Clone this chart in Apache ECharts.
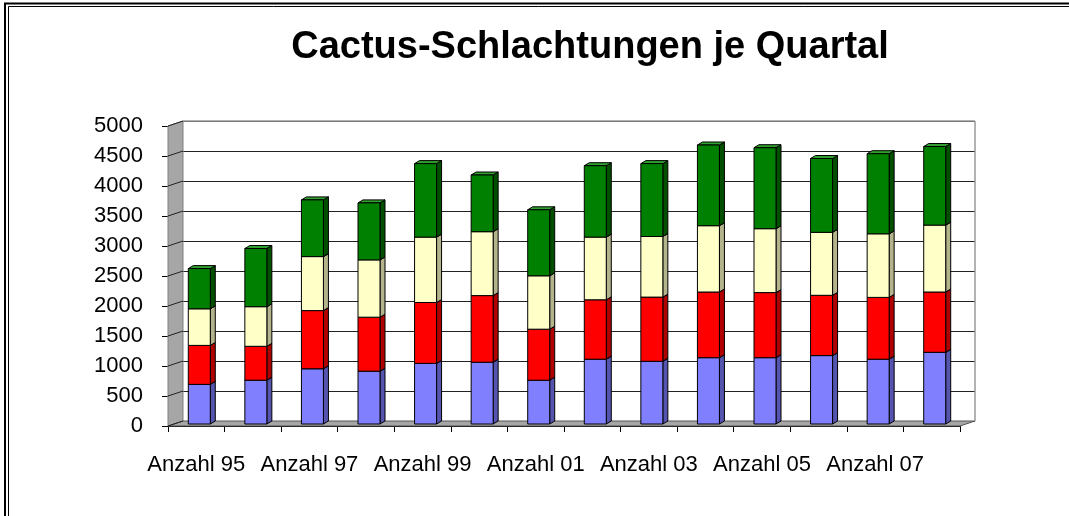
<!DOCTYPE html>
<html>
<head>
<meta charset="utf-8">
<script src="https://cdn.jsdelivr.net/npm/echarts@6/dist/echarts.min.js"></script>
<style>
html,body{margin:0;padding:0;background:#fff;}
#c{width:1069px;height:516px;}
</style>
</head>
<body>
<div id="c"></div>
<script>
const categories = ['Anzahl 95','Anzahl 96','Anzahl 97','Anzahl 98','Anzahl 99','Anzahl 00','Anzahl 01','Anzahl 02','Anzahl 03','Anzahl 04','Anzahl 05','Anzahl 06','Anzahl 07','Anzahl 08'];
const seriesBlue   = [660, 730, 920, 880, 1010, 1030, 730, 1080, 1045, 1105, 1105, 1140, 1080, 1195];
const seriesRed    = [650, 565, 970, 900, 1015, 1110, 850, 990, 1070, 1095, 1085, 1005, 1030, 1005];
const seriesYellow = [610, 660, 900, 955, 1090, 1065, 890, 1045, 1010, 1105, 1065, 1050, 1060, 1115];
const seriesGreen  = [670, 970, 945, 950, 1225, 945, 1100, 1190, 1215, 1345, 1350, 1230, 1335, 1310];
const yTicks = { min: 0, max: 5000, interval: 500 };

const layers = [
  { name: 'Serie 1', values: seriesBlue,   front: '#8080ff', side: '#5555b0', top: '#a0a0ff' },
  { name: 'Serie 2', values: seriesRed,    front: '#ff0000', side: '#b00000', top: '#ff6060' },
  { name: 'Serie 3', values: seriesYellow, front: '#ffffc8', side: '#b4b48c', top: '#ffffe0' },
  { name: 'Serie 4', values: seriesGreen,  front: '#008000', side: '#005000', top: '#30a030' }
];

const FONT = '"Liberation Sans", Arial, sans-serif';
const chart = echarts.init(document.getElementById('c'), null, { renderer: 'canvas' });

const cum = categories.map(() => 0);
const customSeries = layers.map((L) => {
  const data = L.values.map((v, i) => {
    const s = cum[i];
    cum[i] += v;
    return [i, s, cum[i]];
  });
  return {
    type: 'custom',
    name: L.name,
    xAxisIndex: 0, yAxisIndex: 0,
    z: 5,
    encode: { x: 0, y: [1, 2] },
    data: data,
    renderItem: function (params, api) {
      const c = api.value(0);
      const pTop = api.coord([c, api.value(2)]);
      const pBot = api.coord([c, api.value(1)]);
      const w = 22, dx = 5, dy = -3, ox = 3, oy = -2;
      const x0 = pTop[0] - w / 2 + ox;
      const yT = pTop[1] + oy;
      const yB = pBot[1] + oy;
      const stroke = { stroke: '#000', lineWidth: 1 };
      return {
        type: 'group',
        children: [
          { type: 'polygon', shape: { points: [[x0 + w, yT], [x0 + w + dx, yT + dy], [x0 + w + dx, yB + dy], [x0 + w, yB]] },
            style: Object.assign({ fill: L.side }, stroke) },
          { type: 'polygon', shape: { points: [[x0, yT], [x0 + dx, yT + dy], [x0 + w + dx, yT + dy], [x0 + w, yT]] },
            style: Object.assign({ fill: L.top }, stroke) },
          { type: 'rect', shape: { x: x0, y: yT, width: w, height: yB - yT },
            style: Object.assign({ fill: L.front }, stroke) }
        ]
      };
    }
  };
});

const option = {
  backgroundColor: '#fff',
  animation: false,
  title: {
    text: 'Cactus-Schlachtungen je Quartal',
    left: 585, top: 24, textAlign: 'center',
    textStyle: { fontFamily: FONT, fontSize: 38, fontWeight: 'bold', color: '#000' }
  },
  grid: [
    { left: 168, right: 109, top: 126, bottom: 90, containLabel: false },
    { left: 183, right: 94, top: 121, bottom: 95, containLabel: false }
  ],
  xAxis: [
    {
      type: 'category', gridIndex: 0, data: categories, boundaryGap: true,
      axisLine: { show: true, lineStyle: { color: '#000', width: 1 } },
      axisTick: { show: true, interval: 0, length: 6, inside: false, lineStyle: { color: '#000' } },
      axisLabel: { interval: 1, margin: 28, fontFamily: FONT, fontSize: 22, color: '#000' },
      splitLine: { show: false }
    },
    {
      type: 'category', gridIndex: 1, data: categories, boundaryGap: true,
      axisLine: { show: false }, axisTick: { show: false }, axisLabel: { show: false }, splitLine: { show: false }
    }
  ],
  yAxis: [
    {
      type: 'value', gridIndex: 0, min: yTicks.min, max: yTicks.max, interval: yTicks.interval,
      axisLine: { show: true, lineStyle: { color: '#555', width: 1 } },
      axisTick: { show: true, length: 6, lineStyle: { color: '#000' } },
      axisLabel: { margin: 25, fontFamily: FONT, fontSize: 22, color: '#000', formatter: (v) => String(v) },
      splitLine: { show: false }
    },
    {
      type: 'value', gridIndex: 1, min: yTicks.min, max: yTicks.max, interval: yTicks.interval,
      axisLine: { show: false }, axisTick: { show: false }, axisLabel: { show: false },
      splitLine: { show: true, lineStyle: { color: '#222', width: 1 } }
    }
  ],
  series: customSeries
};
chart.setOption(option);

// 3D wall, floor and wall gridline connectors, positioned from the axes' own scale
const px = (cat, v) => chart.convertToPixel({ xAxisIndex: 0, yAxisIndex: 0 }, [cat, v]);
const pb = (cat, v) => chart.convertToPixel({ xAxisIndex: 1, yAxisIndex: 1 }, [cat, v]);
const gridRect = chart.getModel().getComponent('grid', 0).coordinateSystem.getRect();
const backRect = chart.getModel().getComponent('grid', 1).coordinateSystem.getRect();
const fx0 = gridRect.x, fx1 = gridRect.x + gridRect.width;
const bx0 = backRect.x, bx1 = backRect.x + backRect.width;
const y0f = px(0, 0)[1], y5f = px(0, yTicks.max)[1];
const y0b = pb(0, 0)[1], y5b = pb(0, yTicks.max)[1];

const graphics = [];
graphics.push({ type: 'polygon', z: 1, silent: true,
  shape: { points: [[fx0, y0f], [bx0, y0b], [bx0, y5b], [fx0, y5f]] },
  style: { fill: '#a6a6a6', stroke: '#808080', lineWidth: 1 } });
graphics.push({ type: 'polygon', z: 1, silent: true,
  shape: { points: [[fx0, y0f], [bx0, y0b], [bx1, y0b], [fx1, y0f]] },
  style: { fill: '#a6a6a6', stroke: '#555', lineWidth: 1 } });
for (let v = yTicks.min; v <= yTicks.max; v += yTicks.interval) {
  const a = px(0, v)[1], b = pb(0, v)[1];
  graphics.push({ type: 'line', z: 2, silent: true,
    shape: { x1: fx0, y1: a, x2: bx0, y2: b },
    style: { stroke: '#222', lineWidth: 1 } });
}
graphics.push({ type: 'line', z: 2, silent: true, shape: { x1: bx1, y1: y5b, x2: bx1, y2: y0b }, style: { stroke: '#999', lineWidth: 1.5 } });
graphics.push({ type: 'line', z: 2, silent: true, shape: { x1: bx0, y1: y5b, x2: bx1, y2: y5b }, style: { stroke: '#999', lineWidth: 1.5 } });
graphics.push({ type: 'polyline', z: 10, silent: true, shape: { points: [[5, 516], [5, 3.5], [1069, 3.5]] }, style: { stroke: '#000', lineWidth: 2, fill: null } });
graphics.push({ type: 'polyline', z: 10, silent: true, shape: { points: [[8.5, 516], [8.5, 6.5], [1069, 6.5]] }, style: { stroke: '#000', lineWidth: 1, fill: null } });
chart.setOption({ graphic: graphics });
</script>
</body>
</html>
